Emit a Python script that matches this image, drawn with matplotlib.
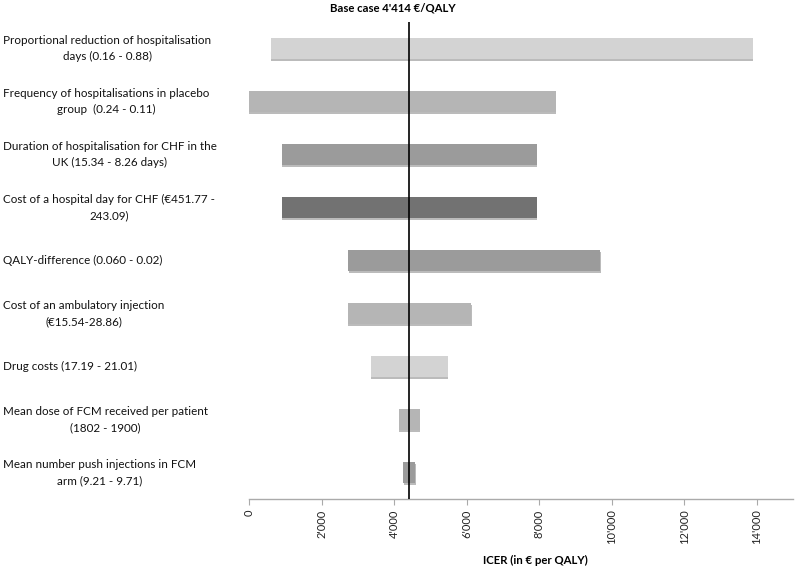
import matplotlib
matplotlib.use("Agg")
import matplotlib.pyplot as plt
import matplotlib.patheffects as pe
import matplotlib.transforms as mtransforms
from matplotlib.ticker import FuncFormatter

plt.rcParams['font.family'] = ['Lato', 'DejaVu Sans']

# parameters, top to bottom
labels = [
    "Proportional reduction of hospitalisation\ndays (0.16 - 0.88)",
    "Frequency of hospitalisations in placebo\ngroup  (0.24 - 0.11)",
    "Duration of hospitalisation for CHF in the\nUK (15.34 - 8.26 days)",
    "Cost of a hospital day for CHF (\u20ac451.77 -\n243.09)",
    "QALY-difference (0.060 - 0.02)",
    "Cost of an ambulatory injection\n(\u20ac15.54-28.86)",
    "Drug costs (17.19 - 21.01)",
    "Mean dose of FCM received per patient\n(1802 - 1900)",
    "Mean number push injections in FCM\narm (9.21 - 9.71)",
]
low = [600, 0, 900, 900, 2735, 2720, 3360, 4135, 4255]
high = [13890, 8465, 7940, 7940, 9690, 6125, 5480, 4705, 4585]
greys = ['#d3d3d3', '#b5b5b5', '#9b9b9b', '#727272', '#9b9b9b',
         '#b5b5b5', '#d3d3d3', '#b5b5b5', '#9b9b9b']
base_case = 4414

fig = plt.figure(figsize=(7.95, 5.67), dpi=100)
ax = fig.add_axes([249/795, 1 - 499/567, 544/795, 477/567])

ypos = list(range(len(labels)))
widths = [h - l for l, h in zip(low, high)]
bars = ax.barh(ypos, widths, left=low, height=0.39, color=greys, zorder=2)
for b in bars:
    b.set_path_effects([pe.SimplePatchShadow(offset=(0.3, -1.5), shadow_rgbFace='#555555', alpha=0.4),
                        pe.Normal()])

ax.axvline(base_case, color='black', lw=1.2, zorder=3)

ax.set_xlim(0, 15000)
ax.set_ylim(len(labels) - 0.5, -0.5)
ax.set_yticks([])
for s in ['top', 'right', 'left']:
    ax.spines[s].set_visible(False)
ax.spines['bottom'].set_color('#aaaaaa')
ax.spines['bottom'].set_linewidth(1.0)
ax.set_xticks(range(0, 15000, 2000))
ax.xaxis.set_major_formatter(FuncFormatter(lambda v, p: f"{int(v):,}".replace(",", "'")))
ax.tick_params(axis='x', colors='#aaaaaa', labelcolor='#222222', length=4, width=0.8,
               labelrotation=90, labelsize=8)

trans = mtransforms.blended_transform_factory(fig.transFigure, ax.transData)
for y, lab in zip(ypos, labels):
    ax.text(3/795, y, lab, transform=trans, ha='left', va='center', ma='center',
            fontsize=8.4, linespacing=1.55, color='#111111')

fig.text(393/795, 1 - 8/567, "Base case 4'414 \u20ac/QALY", ha='center', va='center',
         fontsize=8.2, fontweight='bold')
fig.text(535/795, 1 - 560/567, "ICER (in \u20ac per QALY)", ha='center', va='center',
         fontsize=8.2, fontweight='bold')

fig.savefig("out.png", dpi=100)
